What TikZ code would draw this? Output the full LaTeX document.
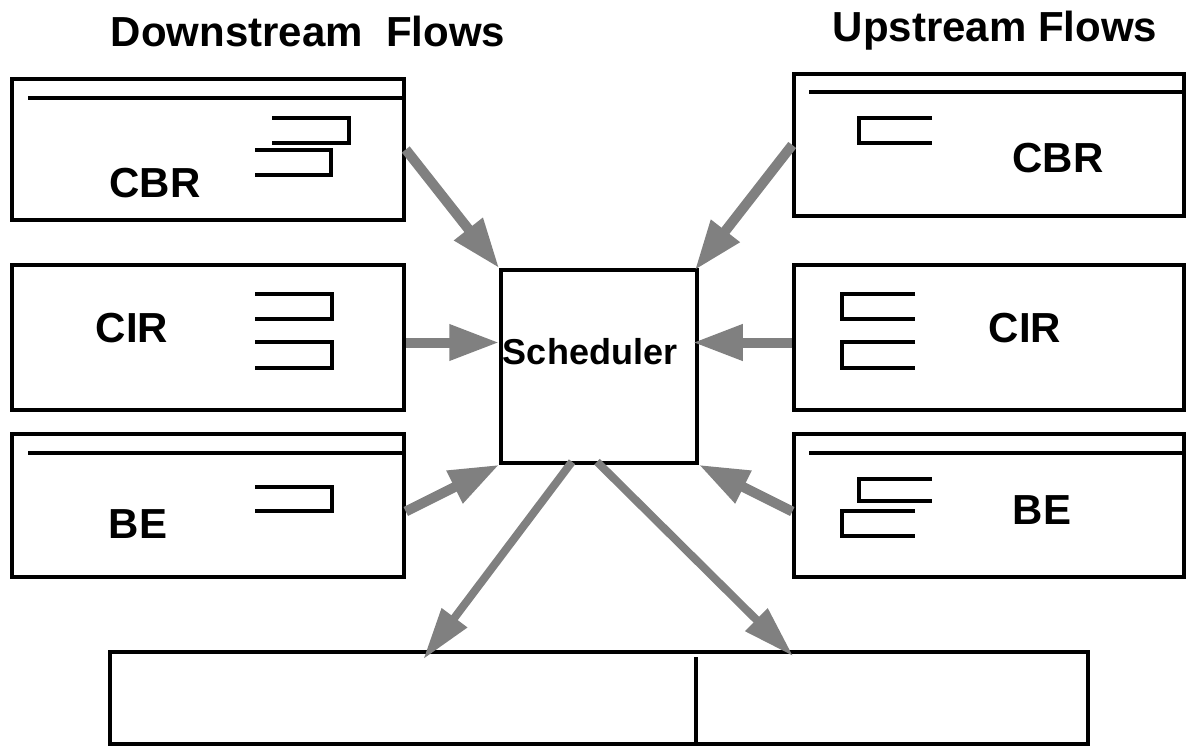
\documentclass[tikz,border=0pt]{standalone}
\usepackage{fontspec}
\setmainfont{Liberation Sans}
\usetikzlibrary{arrows.meta,calc}
\begin{document}
\begin{tikzpicture}[x=1pt,y=-1pt,
  box/.style={draw=black,line width=3.5pt,rectangle,inner sep=0pt},
  label/.style={font=\fontsize{42}{42}\selectfont\bfseries,inner sep=0pt},
  queue/.style={draw=black,line width=3.5pt,line cap=butt,line join=miter},
  divider/.style={draw=black,line width=3.5pt},
  flow/.style={draw=black!50,line width=10pt,
    -{Triangle[length=50pt,width=34pt,fill=black!50]}},
  outflow/.style={draw=black!50,line width=8pt,
    -{Triangle[length=52pt,width=30pt,fill=black!50]}}]
\useasboundingbox (0,0) rectangle (1186,746);

% titles
\node[label] (tdown) at (308,31) {Downstream\ \ Flows};
\node[label] (tup) at (995,31) {Upstream Flows};

% downstream flow classes
\node[box,minimum width=392pt,minimum height=141pt] (cbrL) at (208,149.5) {};
\node[box,minimum width=392pt,minimum height=145pt] (cirL) at (208,337.5) {};
\node[box,minimum width=392pt,minimum height=143pt] (beL) at (208,505.5) {};

% upstream flow classes
\node[box,minimum width=390pt,minimum height=142pt] (cbrR) at (989,145) {};
\node[box,minimum width=390pt,minimum height=145pt] (cirR) at (989,337.5) {};
\node[box,minimum width=390pt,minimum height=143pt] (beR) at (989,505.5) {};

% scheduler and output link
\node[box,minimum width=196pt,minimum height=193pt] (sched) at (599,366.5) {};
\node[font=\fontsize{36}{36}\selectfont\bfseries,inner sep=0pt] (schedtxt) at (590,352) {Scheduler};
\node[box,minimum width=978pt,minimum height=92pt] (out) at (599,698) {};
\draw[divider] (696,657) -- (696,744);

% header lines
\draw[divider] (28,98) -- (cbrL.east |- 0,98);
\draw[divider] (28,453) -- (beL.east |- 0,453);
\draw[divider] (809,92) -- (cbrR.east |- 0,92);
\draw[divider] (809,453) -- (beR.east |- 0,453);

% class labels
\node[label] (lcbrL) at (155,183) {CBR};
\node[label] (lcirL) at (132,328) {CIR};
\node[label] (lbeL) at (138,524) {BE};
\node[label] (lcbrR) at (1058,158) {CBR};
\node[label] (lcirR) at (1025,328) {CIR};
\node[label] (lbeR) at (1042,510) {BE};

% queues, downstream side
\draw[queue] (272,118) -- (349,118) -- (349,143) -- (272,143);
\draw[queue] (255,150) -- (331,150) -- (331,175) -- (255,175);
\draw[queue] (255,294) -- (332,294) -- (332,319) -- (255,319);
\draw[queue] (255,342) -- (332,342) -- (332,368) -- (255,368);
\draw[queue] (255,487) -- (332,487) -- (332,511) -- (255,511);

% queues, upstream side
\draw[queue] (932,118) -- (859,118) -- (859,143) -- (932,143);
\draw[queue] (915,294) -- (842,294) -- (842,319) -- (915,319);
\draw[queue] (915,342) -- (842,342) -- (842,368) -- (915,368);
\draw[queue] (932,479) -- (859,479) -- (859,501) -- (932,501);
\draw[queue] (915,511) -- (842,511) -- (842,536) -- (915,536);

% flows into the scheduler
\draw[flow] (cbrL.east) -- (sched.north west);
\draw[flow] (cbrR.west) -- ($(sched.north east)+(-4,2)$);
\draw[flow] ($(cirL.east)+(0,5)$) -- ($(sched.west)+(0,-24)$);
\draw[flow] ($(cirR.west)+(0,5)$) -- ($(sched.east)+(-6,-24)$);
\draw[flow] ($(beL.east)+(0,6)$) -- (sched.south west);
\draw[flow] ($(beR.west)+(0,6)$) -- (sched.south east);

% flows out of the scheduler
\draw[outflow] ($(sched.south)+(-27,-3)$) -- ($(out.north west)+(315,9)$);
\draw[outflow] ($(sched.south)+(-2,-3)$) -- ($(out.north west)+(685,6)$);
\end{tikzpicture}
\end{document}
